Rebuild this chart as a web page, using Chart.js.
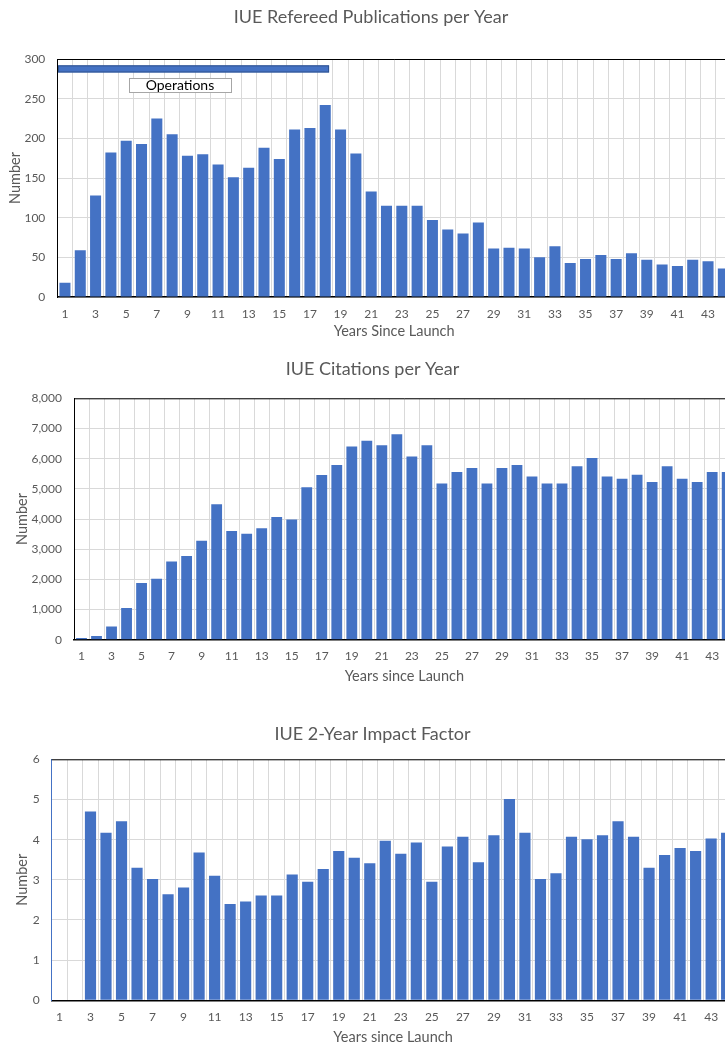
<!DOCTYPE html>
<html>
<head>
<meta charset="utf-8">
<script src="https://cdn.jsdelivr.net/npm/chart.js@4/dist/chart.umd.min.js"></script>
<style>
  html, body { margin: 0; padding: 0; background: #ffffff; overflow: hidden; width: 725px; height: 1050px; }
  #wrap { position: relative; width: 725px; height: 1050px; overflow: hidden; }
  canvas { position: absolute; left: 0; }
</style>
</head>
<body>
<div id="wrap">
  <canvas id="c1" width="745" height="345" style="top:0px"></canvas>
  <canvas id="c2" width="745" height="345" style="top:345px"></canvas>
  <canvas id="c3" width="745" height="360" style="top:690px"></canvas>
</div>
<script>
// ---------------- DATA ----------------
const years = ["1","2","3","4","5","6","7","8","9","10","11","12","13","14","15","16","17","18","19","20","21","22","23","24","25","26","27","28","29","30","31","32","33","34","35","36","37","38","39","40","41","42","43","44"];

const publications = [18, 59, 128, 182, 197, 193, 225, 205, 178, 180, 167, 151, 163, 188, 174, 211, 213, 242, 211, 181,
                      133, 115, 115, 115, 97, 85, 80, 94, 61, 62, 61, 50, 64, 43, 48, 53, 48, 55, 47, 41, 39, 47, 45, 36];

const citations = [60, 120, 440, 1050, 1880, 2020, 2590, 2770, 3280, 4490, 3600, 3510, 3690, 4070, 3980, 5050, 5460, 5790, 6400, 6590,
                   6440, 6810, 6070, 6440, 5180, 5560, 5690, 5180, 5690, 5790, 5410, 5180, 5180, 5750, 6020, 5410, 5330, 5470, 5230, 5750,
                   5330, 5230, 5560, 5560];

const impactFactor = [null, null, 4.70, 4.17, 4.46, 3.30, 3.02, 2.64, 2.81, 3.68, 3.10, 2.40, 2.46, 2.61, 2.61, 3.13, 2.95, 3.27, 3.72, 3.55,
                      3.41, 3.97, 3.65, 3.93, 2.95, 3.83, 4.07, 3.44, 4.11, 5.01, 4.17, 3.02, 3.16, 4.07, 4.01, 4.11, 4.46, 4.07, 3.30, 3.62,
                      3.79, 3.72, 4.03, 4.17];

const pubTicks = [0, 50, 100, 150, 200, 250, 300];
const citTicks = [0, 1000, 2000, 3000, 4000, 5000, 6000, 7000, 8000];
const ifTicks  = [0, 1, 2, 3, 4, 5, 6];

// Operations annotation (in years since launch / number units)
const operationsSpan  = [0.55, 18.25];
const operationsLevel = [283, 292];
const operationsLabel = "Operations";
const operationsLabelBox = { years: [5.18, 11.84], level: [258, 276] };

// ---------------- STYLE ----------------
const FONT = "Lato, 'Open Sans', sans-serif";
const TXT = "#595959";
const BAR = "#4472C4";
const GRID = "#d9d9d9";

function yearIndex(y) { return y - 1; }

const frame = {
  id: 'frame',
  afterDraw(chart, args, opts) {
    const { ctx, chartArea } = chart;
    ctx.save();
    ctx.strokeStyle = opts.topColor || '#000';
    ctx.lineWidth = 1;
    ctx.beginPath();
    ctx.moveTo(chartArea.left, chartArea.top + 0.5);
    ctx.lineTo(chartArea.right, chartArea.top + 0.5);
    ctx.stroke();
    if (opts.title) {
      ctx.fillStyle = TXT;
      ctx.font = opts.titleSize + "px " + FONT;
      ctx.textAlign = 'center';
      ctx.textBaseline = 'middle';
      ctx.fillText(opts.title, opts.titleX, opts.titleY);
    }
    ctx.restore();
  }
};

const operations = {
  id: 'operations',
  afterDatasetsDraw(chart, args, opts) {
    if (!opts.enabled) return;
    const { ctx } = chart;
    const x = chart.scales.x, y = chart.scales.y;
    ctx.save();
    const x0 = x.getPixelForValue(yearIndex(operationsSpan[0]));
    const x1 = x.getPixelForValue(yearIndex(operationsSpan[1]));
    const y0 = y.getPixelForValue(operationsLevel[1]);
    const y1 = y.getPixelForValue(operationsLevel[0]);
    ctx.fillStyle = BAR;
    ctx.fillRect(x0, y0, x1 - x0, y1 - y0);
    ctx.strokeStyle = "#2F528F";
    ctx.lineWidth = 1;
    ctx.strokeRect(x0 + 0.5, y0 + 0.5, x1 - x0 - 1, y1 - y0 - 1);
    const bx0 = x.getPixelForValue(yearIndex(operationsLabelBox.years[0]));
    const bx1 = x.getPixelForValue(yearIndex(operationsLabelBox.years[1]));
    const by0 = y.getPixelForValue(operationsLabelBox.level[1]);
    const by1 = y.getPixelForValue(operationsLabelBox.level[0]);
    ctx.fillStyle = "#ffffff";
    ctx.fillRect(bx0, by0, bx1 - bx0, by1 - by0);
    ctx.strokeStyle = "#a6a6a6";
    ctx.strokeRect(Math.round(bx0) + 0.5, Math.round(by0) + 0.5, Math.round(bx1 - bx0), Math.round(by1 - by0));
    ctx.fillStyle = "#000000";
    ctx.font = "14px " + FONT;
    ctx.textAlign = 'center';
    ctx.textBaseline = 'middle';
    ctx.fillText(operationsLabel, (bx0 + bx1) / 2, (by0 + by1) / 2 + 0.5);
    ctx.restore();
  }
};

function makeChart(id, cfg) {
  const W = 745;
  const el = document.getElementById(id);
  const H = el.height;
  return new Chart(el, {
    type: 'bar',
    data: {
      labels: years,
      datasets: [{
        data: cfg.data,
        backgroundColor: BAR,
        borderWidth: 0,
        barPercentage: 0.72,
        categoryPercentage: 1.0
      }]
    },
    options: {
      responsive: false,
      animation: false,
      devicePixelRatio: 1,
      layout: { padding: { top: cfg.top, left: 0, right: W - cfg.right, bottom: 0 } },
      plugins: {
        legend: { display: false },
        tooltip: { enabled: false },
        title: { display: false },
        frame: { title: cfg.title, titleX: cfg.titleX, titleY: cfg.titleY, titleSize: 18 },
        operations: { enabled: !!cfg.operations }
      },
      scales: {
        x: {
          afterFit(s) { s.height = H - cfg.bottom; },
          grid: { display: true, color: GRID, lineWidth: 1, drawTicks: false, offset: true },
          border: { display: true, color: '#000', width: 1.5 },
          ticks: {
            autoSkip: false, maxRotation: 0, minRotation: 0, padding: 9.5,
            color: TXT, font: { family: FONT, size: 12 },
            callback: function (v, i) { return i % 2 === 0 ? years[i] : ''; }
          },
          title: {
            display: true, text: cfg.xTitle, color: TXT,
            font: { family: FONT, size: 14.5 }, padding: { top: 0, bottom: cfg.xTitlePad }
          }
        },
        y: {
          min: cfg.ticks[0], max: cfg.ticks[cfg.ticks.length - 1],
          afterFit(s) { s.width = cfg.left; },
          afterBuildTicks(s) { s.ticks = cfg.ticks.map(v => ({ value: v })); },
          grid: { display: true, color: GRID, lineWidth: 1, drawTicks: false },
          border: { display: true, color: cfg.leftColor, width: 1 },
          ticks: {
            padding: 12, color: TXT, font: { family: FONT, size: 12 },
            callback: cfg.fmt
          },
          title: {
            display: true, text: 'Number', color: TXT,
            font: { family: FONT, size: 14.5 }, padding: { top: cfg.yTitlePad, bottom: 0 }
          }
        }
      }
    },
    plugins: [frame, operations]
  });
}

makeChart('c1', {
  data: publications, ticks: pubTicks,
  top: 59, bottom: 297, left: 57.3, right: 731,
  title: 'IUE Refereed Publications per Year', titleX: 371, titleY: 17,
  xTitle: 'Years Since Launch', xTitlePad: 5.3, yTitlePad: 6.3,
  leftColor: '#000', operations: true,
  fmt: v => String(v)
});

makeChart('c2', {
  data: citations, ticks: citTicks,
  top: 398.3 - 345, bottom: 639.7 - 345, left: 74, right: 734.7,
  title: 'IUE Citations per Year', titleX: 372.5, titleY: 369.5 - 345,
  xTitle: 'Years since Launch', xTitlePad: 5.3, yTitlePad: 14,
  leftColor: '#000', operations: false,
  fmt: v => Number(v).toLocaleString('en-US')
});

makeChart('c3', {
  data: impactFactor, ticks: ifTicks,
  top: 759.3 - 690, bottom: 1000.3 - 690, left: 51.7, right: 734.4,
  title: 'IUE 2-Year Impact Factor', titleX: 372.5, titleY: 734.5 - 690,
  xTitle: 'Years since Launch', xTitlePad: 3.8, yTitlePad: 14,
  leftColor: '#4472C4', operations: false,
  fmt: v => String(v)
});
</script>
</body>
</html>
